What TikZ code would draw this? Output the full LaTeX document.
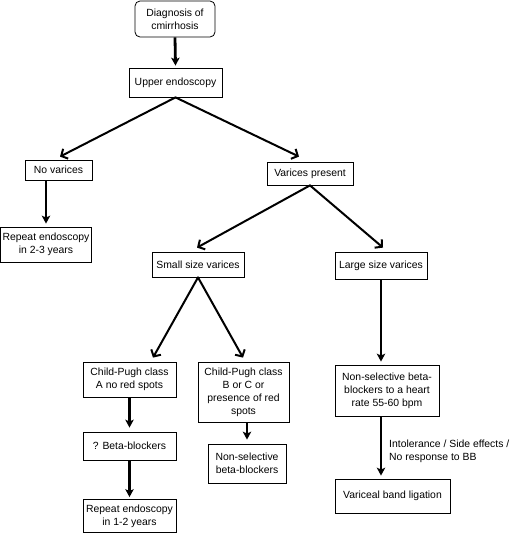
\documentclass[tikz,border=0pt]{standalone}
\usepackage{fontspec}
\setmainfont{Liberation Sans}
\usetikzlibrary{arrows.meta}
\begin{document}
\begin{tikzpicture}[x=1pt,y=-1pt,
  box/.style={draw=black,line width=0.8pt,rectangle,inner sep=0pt,align=center,
    font=\fontsize{10.4}{12.9}\selectfont},
  diag/.style={-{Straight Barb[length=5pt,width=11pt]},line width=2pt,line cap=round},
  vert/.style={-{Stealth[length=8pt,width=8.5pt,inset=2pt]},line width=2.8pt},
  lbl/.style={align=left,inner sep=0pt,font=\fontsize{10.4}{12.9}\selectfont}]
\useasboundingbox (0,0) rectangle (512,533);
\node[box,rounded corners=5pt,minimum width=80pt,minimum height=36pt] (dg) at (175,19) {Diagnosis of\\cmirrhosis};
\node[box,minimum width=93pt,minimum height=29pt] (up) at (175.5,82.5) {Upper endoscopy};
\node[box,minimum width=67pt,minimum height=20pt] (nv) at (58.5,170) {No varices};
\node[box,minimum width=86pt,minimum height=23pt] (vp) at (310,173.5) {Varices present};
\node[box,minimum width=91pt,minimum height=35pt] (r23) at (46,244.5) {Repeat endoscopy\\in 2-3 years};
\node[box,minimum width=92pt,minimum height=25pt] (sm) at (198,264.5) {Small size varices};
\node[box,minimum width=92pt,minimum height=27pt] (lg) at (381,265.5) {Large size varices};
\node[box,minimum width=93pt,minimum height=35pt] (cpa) at (129.5,379.5) {Child-Pugh class\\A no red spots};
\node[box,minimum width=91pt,minimum height=60pt] (cpb) at (243.5,392) {Child-Pugh class\\B or C or\\presence of red\\spots};
\node[box,minimum width=104pt,minimum height=51pt] (nsh) at (387,390.5) {Non-selective beta-\\blockers to a heart\\rate 55-60 bpm};
\node[box,minimum width=93pt,minimum height=28pt] (qbb) at (129.5,446) {? Beta-blockers};
\node[box,minimum width=78pt,minimum height=39pt] (ns) at (247,463.5) {Non-selective\\beta-blockers};
\node[box,minimum width=93pt,minimum height=33pt] (r12) at (129.5,516) {Repeat endoscopy\\in 1-2 years};
\node[box,minimum width=115pt,minimum height=34pt] (vbl) at (392.5,496) {Variceal band ligation};
\node[lbl,anchor=west] (lb) at (389,451) {Intolerance / Side effects /\\No response to BB};

\draw[vert] (dg.south) -- ([yshift=2pt]up.north);
\draw[diag] (up.south) -- ([xshift=1.5pt,yshift=3pt]nv.north);
\draw[diag] (up.south) -- ([xshift=-11pt,yshift=5pt]vp.north);
\draw[vert] (r23.north |- nv.south) -- ([yshift=3pt]r23.north);
\draw[diag] (vp.south) -- ([xshift=-1pt,yshift=4pt]sm.north);
\draw[diag] (vp.south) -- ([xshift=2pt,yshift=4pt]lg.north);
\draw[diag] (sm.south) -- ([xshift=23.5pt,yshift=4pt]cpa.north);
\draw[diag] (sm.south) -- ([xshift=-0.5pt,yshift=4pt]cpb.north);
\draw[vert] (lg.south) -- ([yshift=3pt]lg.south |- nsh.north);
\draw[vert] (cpa.south) -- ([yshift=4pt]qbb.north);
\draw[vert] (cpb.south -| ns.north) -- ([yshift=4pt]ns.north);
\draw[vert] (qbb.south) -- ([yshift=2pt]r12.north);
\draw[vert] (lg.south |- nsh.south) -- ([yshift=3pt]lg.south |- vbl.north);
\end{tikzpicture}
\end{document}
